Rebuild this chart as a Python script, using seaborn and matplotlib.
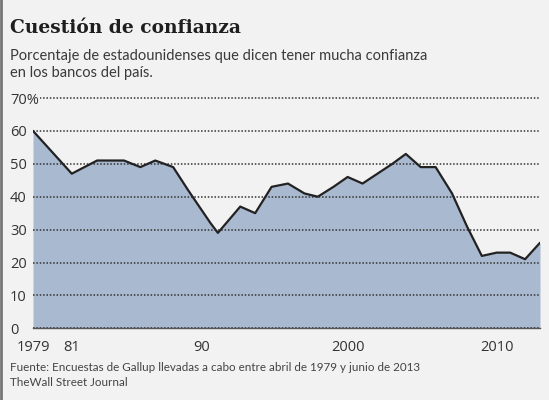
import matplotlib
matplotlib.use('Agg')
import matplotlib.pyplot as plt
import seaborn as sns
import pandas as pd
from matplotlib.lines import Line2D

# Gallup: confianza en los bancos (fecha de la encuesta, % "mucha confianza")
survey_dates = [1979.0, 1981.6, 1983.3, 1984.5, 1985.1, 1986.2, 1987.2, 1988.4, 1989.4, 1990.3,
                1990.9, 1991.4, 1992.9, 1993.9, 1995.0, 1996.1, 1997.2, 1998.1, 1999.15, 2000.1,
                2001.1, 2002.1, 2003.1, 2004.0, 2005.0, 2006.0, 2007.1, 2008.1, 2009.1, 2010.1,
                2011.0, 2012.0, 2013.0]
confidence = [60, 47, 51, 51, 51, 49, 51, 49, 42, 36,
              32, 29, 37, 35, 43, 44, 41, 40, 43, 46,
              44, 47, 50, 53, 49, 49, 41, 31, 22, 23,
              23, 21, 26]

label_years = [1979.0, 1981.6, 1990.3, 2000.1, 2010.1]
label_texts = ['1979', '81', '90', '2000', '2010']
y_ticks = [0, 10, 20, 30, 40, 50, 60, 70]
y_labels = ['0', '10', '20', '30', '40', '50', '60', '70%']

df = pd.DataFrame({'fecha': survey_dates, 'pct': confidence})

bg = '#f2f2f2'
sns.set_style('white', {'axes.facecolor': bg, 'figure.facecolor': bg})
plt.rcParams['font.family'] = ['Open Sans', 'DejaVu Sans']

fig = plt.figure(figsize=(5.49, 4.0), dpi=100)
ax = fig.add_axes([33 / 549, 1 - 328.3 / 400, (540 - 33) / 549, (328.3 - 96.7) / 400])

ax.fill_between(df['fecha'], df['pct'], 0, color='#a8b9d0', lw=0, zorder=1)
sns.lineplot(data=df, x='fecha', y='pct', ax=ax, color='#222222', lw=1.6, zorder=3)

ax.set_xlim(1979, 2013)
ax.set_ylim(0, 70.4)
ax.set_xlabel('')
ax.set_ylabel('')

ax.set_yticks(y_ticks)
ax.set_yticklabels(y_labels, fontsize=10.5, color='#333333', ha='left')
for lab in ax.get_yticklabels():
    lab.set_bbox(dict(facecolor=bg, edgecolor='none', pad=0.5))
ax.tick_params(axis='y', length=0, pad=16.6)

ax.set_xticks(label_years)
ax.set_xticklabels(label_texts, fontsize=10.5, color='#333333')
ax.set_xticks([d for d in survey_dates if d not in label_years], minor=True)
ax.tick_params(axis='x', which='major', length=5.8, width=1, color='#444444', pad=2.5)
ax.tick_params(axis='x', which='minor', length=2.6, width=1, color='#444444')

ax.set_axisbelow(False)
ax.grid(axis='y', color='#333333', linestyle=(0, (1, 1.2)), linewidth=1.1)
ax.grid(axis='x', visible=False)

for s in ['left', 'right', 'top']:
    ax.spines[s].set_visible(False)
ax.spines['bottom'].set_color('#555555')
ax.spines['bottom'].set_linewidth(1)

renderer = fig.canvas.get_renderer()


def fitted_text(y_px, s, width_px, size, **kw):
    # shrink/grow font so the line is as wide as in the original
    t = fig.text(10 / 549, 1 - y_px / 400, s, fontsize=size, va='baseline', **kw)
    w = t.get_window_extent(renderer).width
    t.set_fontsize(size * width_px / w)
    return t


fitted_text(33, 'Cuestión de confianza', 231, 17, fontweight='bold',
            family=['DejaVu Serif'], color='#1e1e1e')
sub = fitted_text(60, 'Porcentaje de estadounidenses que dicen tener mucha confianza', 413, 12,
                  family=['Lato', 'DejaVu Sans'], color='#3a3a3a')
fig.text(10 / 549, 1 - 77 / 400, 'en los bancos del país.', fontsize=sub.get_fontsize(),
         family=['Lato', 'DejaVu Sans'], color='#3a3a3a', va='baseline')

src = fitted_text(371, 'Fuente: Encuestas de Gallup llevadas a cabo entre abril de 1979 y junio de 2013',
                  408, 9, family=['Lato', 'DejaVu Sans'], color='#444444')
fig.text(10 / 549, 1 - 386.5 / 400, 'TheWall Street Journal', fontsize=src.get_fontsize(),
         family=['Lato', 'DejaVu Sans'], color='#444444', va='baseline')

fig.add_artist(Line2D([0.0025, 0.0025], [0, 1], color='#777777', lw=2))

fig.savefig('out.png', dpi=100, facecolor=bg)
